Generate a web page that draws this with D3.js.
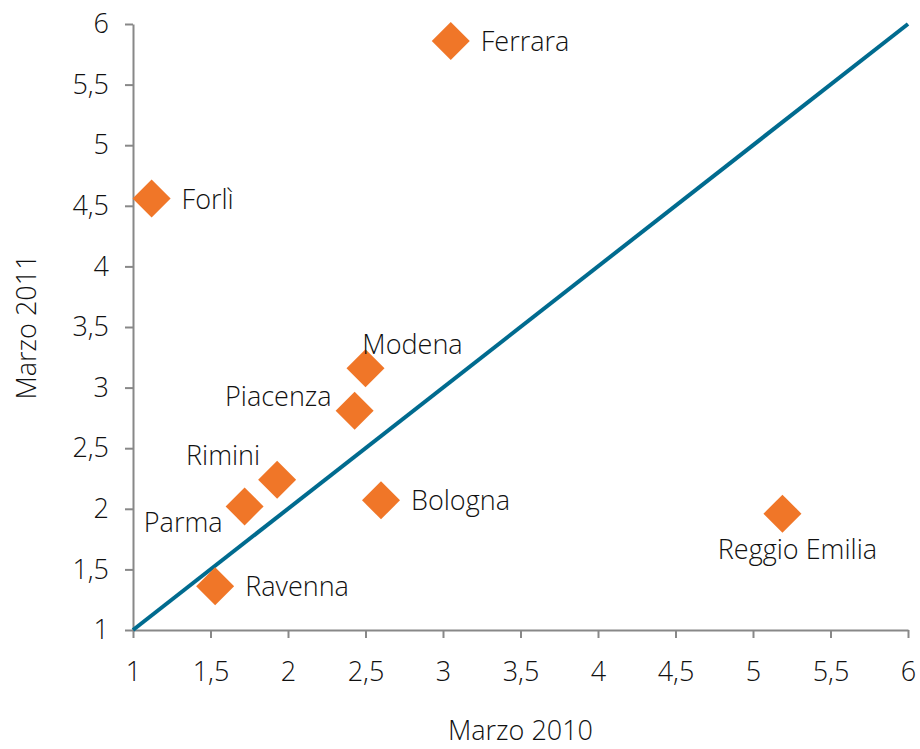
<!DOCTYPE html>
<html>
<head>
<meta charset="utf-8">
<script src="https://cdn.jsdelivr.net/npm/d3@7"></script>
<style>
  body { margin: 0; background: #fff; }
  svg { font-family: "Open Sans", "Noto Sans", sans-serif; font-weight: 300; }
</style>
</head>
<body>
<div id="chart"></div>
<script>
// province names and values (Marzo 2010 vs Marzo 2011)
var provinces = ["Ferrara", "Forlì", "Modena", "Piacenza", "Rimini", "Parma", "Bologna", "Reggio Emilia", "Ravenna"];
var marzo2010 = [3.05, 1.12, 2.50, 2.43, 1.93, 1.72, 2.60, 5.19, 1.53];
var marzo2011 = [5.86, 4.56, 3.16, 2.81, 2.24, 2.02, 2.07, 1.96, 1.36];
var labelPos = ["right", "right", "top", "left", "topleft", "bottomleft", "right", "bottom", "right"];
var tickValues = [1, 1.5, 2, 2.5, 3, 3.5, 4, 4.5, 5, 5.5, 6];

var W = 920, H = 749;
var margin = {top: 24, right: 12, bottom: 119, left: 133};
var width = W - margin.left - margin.right,
    height = H - margin.top - margin.bottom;
var fs = "27px";

var fmt = function(d){ return String(d).replace(".", ","); };

var svg = d3.select("#chart").append("svg")
    .attr("width", W).attr("height", H)
  .append("g")
    .attr("transform", "translate(" + margin.left + "," + margin.top + ")");

var x = d3.scaleLinear().domain([1, 6]).range([0, width]);
var y = d3.scaleLinear().domain([1, 6]).range([height, 0]);

// x axis
var xAxis = svg.append("g")
    .attr("transform", "translate(0," + height + ")")
    .call(d3.axisBottom(x).tickValues(tickValues).tickFormat(fmt).tickSize(8).tickSizeOuter(0).tickPadding(24))
    .attr("font-family", null).attr("font-size", null);
xAxis.selectAll("text").style("font-size", fs).attr("fill", "#111");

// y axis
var yAxis = svg.append("g")
    .call(d3.axisLeft(y).tickValues(tickValues).tickFormat(fmt).tickSize(8).tickSizeOuter(0).tickPadding(16))
    .attr("font-family", null).attr("font-size", null);
yAxis.selectAll("text").style("font-size", fs).attr("fill", "#111");

svg.selectAll(".domain, .tick line").attr("stroke", "#888").attr("stroke-width", 2);

// diagonal line
svg.append("line")
    .attr("x1", x(1)).attr("y1", y(1))
    .attr("x2", x(6)).attr("y2", y(6))
    .attr("stroke", "#006b8f").attr("stroke-width", 4);

// points
var data = provinces.map(function(p, i){
  return {name: p, x: marzo2010[i], y: marzo2011[i], pos: labelPos[i]};
});

svg.selectAll(".pt")
  .data(data).enter()
  .append("path")
    .attr("class", "pt")
    .attr("transform", function(d){ return "translate(" + x(d.x) + "," + y(d.y) + ")"; })
    .attr("d", "M0,-19L19,0L0,19L-19,0Z")
    .attr("fill", "#f07628");

// labels
svg.selectAll(".lbl")
  .data(data).enter()
  .append("text")
    .attr("class", "lbl")
    .style("font-size", fs)
    .attr("fill", "#111")
    .attr("x", function(d){
      var px = x(d.x);
      if (d.pos == "right") return px + 30;
      if (d.pos == "left") return px - 23;
      if (d.pos == "topleft") return px - 17;
      if (d.pos == "bottomleft") return px - 22;
      if (d.pos == "top") return px + 47;
      if (d.pos == "bottom") return px + 15;
      return px;
    })
    .attr("y", function(d){
      var py = y(d.y);
      if (d.pos == "top") return py - 14;
      if (d.pos == "topleft") return py - 15;
      if (d.pos == "bottomleft") return py + 26;
      if (d.pos == "bottom") return py + 45;
      if (d.pos == "left") return py - 5;
      return py + 10;
    })
    .attr("text-anchor", function(d){
      if (d.pos == "right") return "start";
      if (d.pos == "top" || d.pos == "bottom") return "middle";
      return "end";
    })
    .text(function(d){ return d.name; });

// axis titles
svg.append("text")
    .attr("x", width / 2)
    .attr("y", height + 110)
    .attr("text-anchor", "middle")
    .style("font-size", fs).attr("fill", "#111")
    .text("Marzo 2010");

svg.append("text")
    .attr("transform", "translate(" + (-97) + "," + (height / 2) + ") rotate(-90)")
    .attr("text-anchor", "middle")
    .style("font-size", fs).attr("fill", "#111")
    .text("Marzo 2011");
</script>
</body>
</html>
